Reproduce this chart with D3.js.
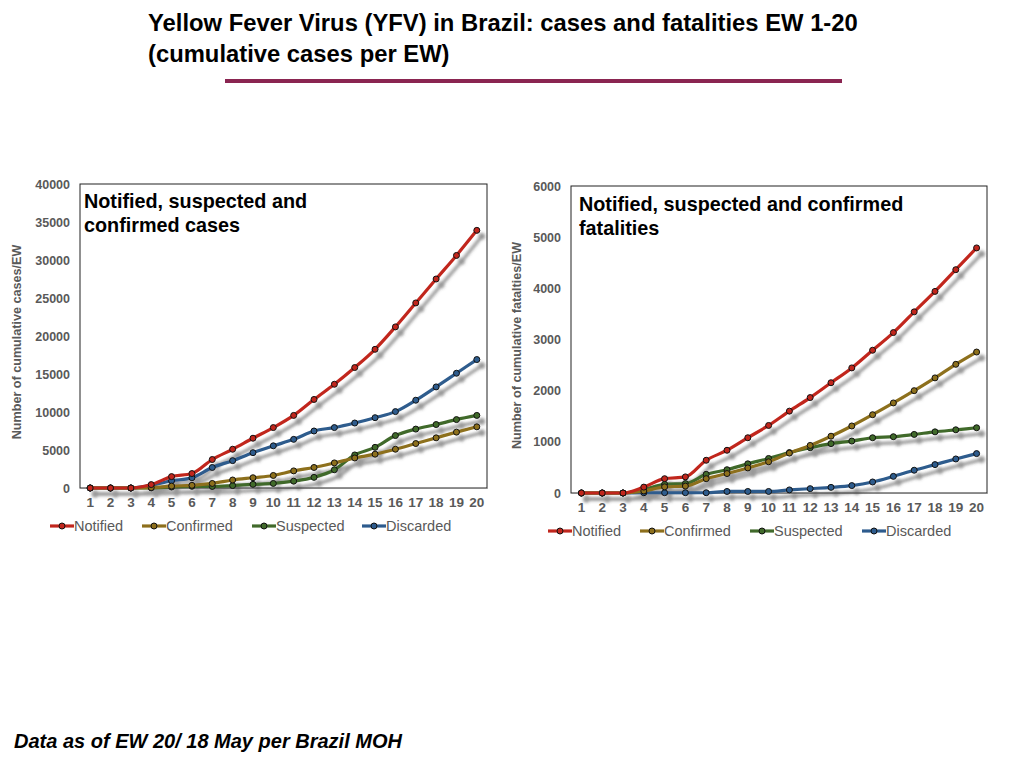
<!DOCTYPE html>
<html>
<head>
<meta charset="utf-8">
<script src="https://d3js.org/d3.v7.min.js"></script>
<style>
  body { margin: 0; background: #fff; }
  svg { font-family: "Liberation Sans", Arial, sans-serif; }
</style>
</head>
<body>
<svg></svg>
<script>
const size = { w: 1024, h: 768 };
const svg = d3.select("svg").attr("width", size.w).attr("height", size.h);

// epidemiological weeks
const weeks = d3.range(1, 21);
const seriesNames = ["Notified", "Confirmed", "Suspected", "Discarded"];
const seriesColors = ["#c1261d", "#8d6f1c", "#416a2b", "#2d5b8d"];

// cumulative cases per EW
const casesNotified = [0, 0, 0, 450, 1500, 1900, 3750, 5100, 6550, 7950, 9550, 11650, 13650, 15850, 18250, 21200, 24350, 27500, 30600, 33900];
const casesConfirmed = [0, 0, 0, 50, 250, 350, 600, 1050, 1350, 1650, 2250, 2700, 3300, 3950, 4450, 5100, 5850, 6600, 7350, 8050];
const casesSuspected = [0, 0, 0, 20, 130, 220, 200, 320, 480, 600, 900, 1400, 2400, 4350, 5350, 6900, 7750, 8350, 9000, 9550];
const casesDiscarded = [0, 0, 0, 350, 950, 1350, 2700, 3600, 4650, 5550, 6400, 7500, 7950, 8550, 9250, 10050, 11550, 13300, 15100, 16900];

// cumulative fatalities per EW
const fatNotified = [0, 0, 0, 115, 280, 315, 640, 835, 1080, 1320, 1600, 1865, 2155, 2445, 2790, 3135, 3540, 3940, 4365, 4790];
const fatConfirmed = [0, 0, 0, 40, 120, 135, 280, 380, 490, 610, 780, 930, 1110, 1310, 1530, 1760, 2000, 2250, 2515, 2755];
const fatSuspected = [0, 0, 0, 70, 170, 185, 365, 455, 570, 675, 790, 885, 965, 1015, 1080, 1100, 1145, 1195, 1235, 1275];
const fatDiscarded = [0, 0, 0, 5, 5, 5, 5, 30, 30, 30, 60, 85, 110, 145, 215, 325, 445, 555, 665, 770];

const casesTicks = d3.range(0, 40001, 5000);
const fatTicks = d3.range(0, 6001, 1000);

const defs = svg.append("defs");
defs.append("filter")
  .attr("id", "shadow")
  .attr("x", "-10%").attr("y", "-10%")
  .attr("width", "130%").attr("height", "130%")
  .append("feDropShadow")
  .attr("dx", 5).attr("dy", 6)
  .attr("stdDeviation", 1.8)
  .attr("flood-color", "#444")
  .attr("flood-opacity", 0.55);

// title
const title = svg.append("g").attr("font-weight", "bold").attr("font-size", 23.8).attr("fill", "#000");
title.append("text").attr("x", 148).attr("y", 31).text("Yellow Fever Virus (YFV) in Brazil: cases and fatalities EW 1-20");
title.append("text").attr("x", 148).attr("y", 62).text("(cumulative cases per EW)");
svg.append("rect").attr("x", 225).attr("y", 79).attr("width", 617).attr("height", 4).attr("fill", "#8a2551");

svg.append("text")
  .attr("x", 14).attr("y", 748)
  .attr("font-weight", "bold").attr("font-style", "italic")
  .attr("font-size", 20)
  .text("Data as of EW 20/ 18 May per Brazil MOH");

drawChart({
  left: 80, right: 487, top: 184, bottom: 488,
  ticks: casesTicks,
  series: [casesNotified, casesConfirmed, casesSuspected, casesDiscarded],
  yTitle: "Number of cumulative cases/EW",
  yTitleX: 21,
  titleLines: ["Notified, suspected and", "confirmed cases"],
  titleX: 84, titleY: 208,
  legendY: 526, legendX: [50, 142, 252, 362]
});

drawChart({
  left: 571, right: 987, top: 186, bottom: 493,
  ticks: fatTicks,
  series: [fatNotified, fatConfirmed, fatSuspected, fatDiscarded],
  yTitle: "Number of cumulative fatalties/EW",
  yTitleX: 521,
  titleLines: ["Notified, suspected and confirmed", "fatalities"],
  titleX: 579, titleY: 211,
  legendY: 531, legendX: [548, 640, 750, 862]
});

function drawChart(c) {
  const g = svg.append("g");
  const x = d3.scaleBand().domain(weeks).range([c.left, c.right]);
  const y = d3.scaleLinear().domain([0, d3.max(c.ticks)]).range([c.bottom, c.top]);

  // frame
  g.append("rect")
    .attr("x", c.left).attr("y", c.top)
    .attr("width", c.right - c.left).attr("height", c.bottom - c.top)
    .attr("fill", "none").attr("stroke", "#222").attr("stroke-width", 1);

  const yAxis = g.append("g")
    .attr("transform", `translate(${c.left},0)`)
    .call(d3.axisLeft(y).tickValues(c.ticks).tickSize(0).tickPadding(10).tickFormat(d3.format("d")));
  yAxis.select(".domain").remove();
  yAxis.selectAll("text")
    .attr("font-family", "'Liberation Sans', Arial, sans-serif")
    .attr("font-size", 12.5).attr("font-weight", "bold").attr("fill", "#595959");

  const xAxis = g.append("g")
    .attr("transform", `translate(0,${c.bottom})`)
    .call(d3.axisBottom(x).tickSize(0).tickPadding(9));
  xAxis.select(".domain").attr("stroke", "#888");
  xAxis.selectAll("text")
    .attr("font-family", "'Liberation Sans', Arial, sans-serif")
    .attr("font-size", 13.5).attr("font-weight", "bold").attr("fill", "#595959");

  g.append("text")
    .attr("transform", `translate(${c.yTitleX},${(c.top + c.bottom) / 2 + 6}) rotate(-90)`)
    .attr("text-anchor", "middle")
    .attr("font-size", 12.6).attr("font-weight", "bold").attr("fill", "#595959")
    .text(c.yTitle);

  const line = d3.line()
    .x((d, i) => x(weeks[i]) + x.bandwidth() / 2)
    .y(d => y(d))
    .curve(d3.curveMonotoneX);

  const plot = g.append("g").attr("filter", "url(#shadow)");
  // draw from last series to first so Notified sits on top
  for (let s = c.series.length - 1; s >= 0; s--) {
    const data = c.series[s];
    const sg = plot.append("g");
    sg.append("path")
      .attr("d", line(data))
      .attr("fill", "none")
      .attr("stroke", seriesColors[s])
      .attr("stroke-width", 3.2);
    sg.selectAll("circle")
      .data(data)
      .enter()
      .append("circle")
      .attr("cx", (d, i) => x(weeks[i]) + x.bandwidth() / 2)
      .attr("cy", d => y(d))
      .attr("r", 3)
      .attr("fill", seriesColors[s])
      .attr("stroke", "#111")
      .attr("stroke-width", 1);
  }

  const titleG = g.append("g").attr("font-size", 19.8).attr("font-weight", "bold").attr("fill", "#000");
  c.titleLines.forEach((t, i) => {
    titleG.append("text").attr("x", c.titleX).attr("y", c.titleY + i * 24).text(t);
  });

  const legend = g.append("g");
  seriesNames.forEach((name, i) => {
    const lx = c.legendX[i];
    const item = legend.append("g");
    item.append("line")
      .attr("x1", lx).attr("x2", lx + 24)
      .attr("y1", c.legendY).attr("y2", c.legendY)
      .attr("stroke", seriesColors[i]).attr("stroke-width", 3.2);
    item.append("circle")
      .attr("cx", lx + 12).attr("cy", c.legendY).attr("r", 3)
      .attr("fill", seriesColors[i]).attr("stroke", "#111").attr("stroke-width", 1);
    item.append("text")
      .attr("x", lx + 24).attr("y", c.legendY + 5)
      .attr("font-size", 14.5).attr("fill", "#595959")
      .text(name);
  });
}
</script>
</body>
</html>
